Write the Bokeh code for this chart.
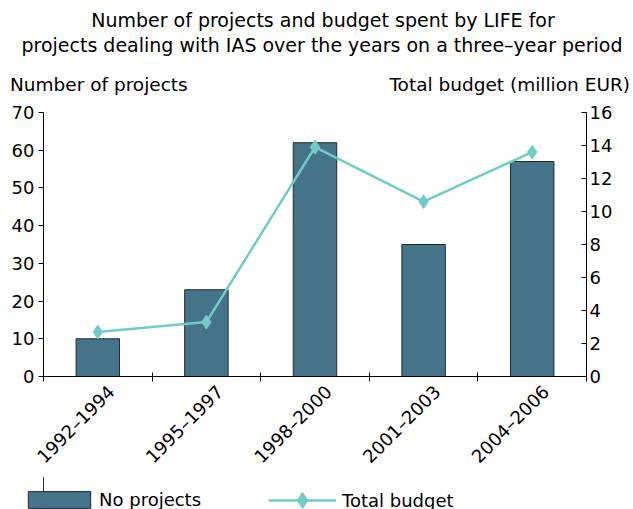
import math
from bokeh.plotting import figure
from bokeh.layouts import column
from bokeh.models import Range1d, LinearAxis, FixedTicker, Legend, LegendItem, Div
from bokeh.embed import file_html
from bokeh.resources import INLINE

periods = ["1992–1994", "1995–1997", "1998–2000", "2001–2003", "2004–2006"]
projects = [10, 23, 62, 35, 57]
budget = [2.7, 3.3, 13.9, 10.6, 13.6]
left_ticks = [0, 10, 20, 30, 40, 50, 60, 70]
right_ticks = [0, 2, 4, 6, 8, 10, 12, 14, 16]
title_lines = ["Number of projects and budget spent by LIFE for",
               "projects dealing with IAS over the years on a three\u2013year period"]
left_label = "Number of projects"
right_label = "Total budget (million EUR)"
legend_labels = ["No projects", "Total budget"]

FONT = "DejaVu Sans"
FS = "18px"
BAR = "#45748A"
BAR_LINE = "#1c2b32"
LINE = "#72CCC6"
W = 633
LABEL_SHIFT = 0.125  # horizontal nudge of rotated category labels


def bare_fig(**kw):
    f = figure(output_backend="svg", toolbar_location=None,
               x_axis_location=None, y_axis_location=None, **kw)
    f.outline_line_color = None
    f.xgrid.visible = False
    f.ygrid.visible = False
    f.background_fill_alpha = 0
    f.border_fill_alpha = 0
    return f


# ---------- header (titles and axis captions) ----------
HH = 100
span = ("position:absolute;white-space:nowrap;font-family:'DejaVu Sans';color:black;"
        "line-height:1;")
html = (
    f'<div style="position:relative;width:{W}px;height:{HH}px;">'
    f'<span style="{span}font-size:19px;left:323px;top:20px;transform:translate(-50%,-50%);">{title_lines[0]}</span>'
    f'<span style="{span}font-size:19px;left:322px;top:45px;transform:translate(-50%,-50%);">{title_lines[1]}</span>'
    f'<span style="{span}font-size:18.5px;left:10px;top:85px;transform:translate(0,-50%);">{left_label}</span>'
    f'<span style="{span}font-size:18.5px;right:3px;top:85px;transform:translate(0,-50%);">{right_label}</span>'
    '</div>'
)
head = Div(text=html, width=W, height=HH, margin=0)

# ---------- main chart ----------
xs = [i + 0.5 for i in range(len(periods))]
label_pos = [x + LABEL_SHIFT for x in xs]
p = bare_fig(frame_width=543, frame_height=264,
             x_range=Range1d(0, len(periods)), y_range=Range1d(0, 70),
             min_border_left=43, min_border_right=47, min_border_top=12, min_border_bottom=100)
p.extra_y_ranges = {"budget": Range1d(0, 16)}

bars = p.vbar(x=xs, top=projects, width=0.4, fill_color=BAR, line_color=BAR_LINE, line_width=1)
ln = p.line(xs, budget, y_range_name="budget", line_color=LINE, line_width=2.5)
pts = p.scatter(xs, budget, y_range_name="budget", marker="diamond", size=14,
                fill_color=LINE, line_color=LINE)

xax = LinearAxis(ticker=FixedTicker(ticks=label_pos, minor_ticks=list(range(len(periods) + 1))),
                 major_label_overrides={x: lab for x, lab in zip(label_pos, periods)},
                 major_label_orientation=math.pi / 4)
xax.major_tick_line_color = None
xax.minor_tick_in = 4
xax.minor_tick_out = 5
xax.minor_tick_line_color = "black"
xax.axis_line_color = "black"
xax.major_label_text_font = FONT
xax.major_label_text_font_size = FS
xax.major_label_text_color = "black"
xax.major_label_standoff = 6
p.add_layout(xax, "below")

lax = LinearAxis(ticker=FixedTicker(ticks=left_ticks, minor_ticks=[]))
lax.major_tick_in = 0
lax.major_tick_out = 5
lax.major_label_text_font = FONT
lax.major_label_text_font_size = FS
lax.major_label_text_color = "black"
lax.major_label_standoff = 4
lax.axis_line_color = "black"
lax.major_tick_line_color = "black"
p.add_layout(lax, "left")

rax = LinearAxis(y_range_name="budget", ticker=FixedTicker(ticks=right_ticks, minor_ticks=[]))
rax.major_tick_in = 5
rax.major_tick_out = 0
rax.major_label_text_font = FONT
rax.major_label_text_font_size = FS
rax.major_label_text_color = "black"
rax.major_label_standoff = 3
rax.axis_line_color = "black"
rax.major_tick_line_color = "black"
p.add_layout(rax, "right")

# ---------- footer (legend); key glyphs use the same data, kept outside the visible range ----------
FH = 33
foot = bare_fig(frame_width=W, frame_height=FH, x_range=Range1d(100, 101), y_range=Range1d(0, 1), min_border=0)
kb = foot.vbar(x=xs, top=projects, width=0.4, fill_color=BAR, line_color=BAR_LINE, line_width=1)
kl = foot.line(x=xs, y=budget, line_color=LINE, line_width=2.5)
kp = foot.scatter(x=xs, y=budget, marker="diamond", size=14, fill_color=LINE, line_color=LINE)
common = dict(orientation="horizontal", label_text_font=FONT, label_text_font_size=FS,
              label_text_color="black", border_line_color=None, background_fill_alpha=0,
              padding=0, margin=0)
leg1 = Legend(items=[LegendItem(label=legend_labels[0], renderers=[kb])],
              location=(20, 0), glyph_width=78, glyph_height=21, label_standoff=1, **common)
leg2 = Legend(items=[LegendItem(label=legend_labels[1], renderers=[kl, kp])],
              location=(268, -10), glyph_width=68, glyph_height=40, label_standoff=6, **common)
foot.add_layout(leg1, "center")
foot.add_layout(leg2, "center")

layout = column(head, p, foot, spacing=0)
open("out.html", "w").write(file_html(layout, INLINE))
